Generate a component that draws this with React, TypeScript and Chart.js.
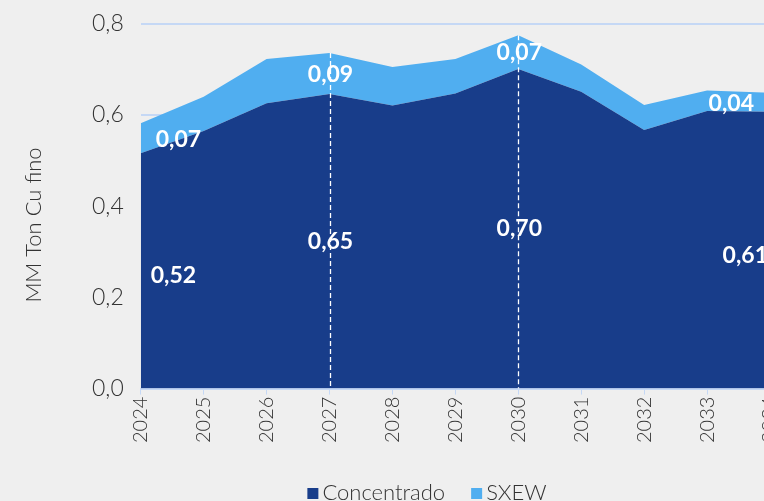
import React, { useEffect, useRef } from "react";
import { Chart, registerables } from "chart.js";

Chart.register(...registerables);

const years = ["2024", "2025", "2026", "2027", "2028", "2029", "2030", "2031", "2032", "2033", "2034"];
const seriesNames = ["Concentrado", "SXEW"];
const concentrado = [0.516, 0.565, 0.626, 0.646, 0.621, 0.647, 0.701, 0.651, 0.567, 0.609, 0.607];
const sxew = [0.066, 0.075, 0.097, 0.09, 0.084, 0.076, 0.074, 0.06, 0.055, 0.045, 0.042];
const labelIndices = [0, 3, 6, 10];
const dashedIndices = [3, 6];
const yTicks = [0, 0.2, 0.4, 0.6, 0.8];
const yTitle = "MM Ton Cu fino";

const DARK = "#183d8a";
const LIGHT = "#50aef0";
const BG = "#efefef";
const TEXT = "#333333";
const FONT = "Lato, 'Open Sans', sans-serif";
const SHIFT_Y = 7;

const fmt = (v: number, d: number) => v.toFixed(d).replace(".", ",");

const overlayPlugin = {
  id: "overlay",
  afterDatasetsDraw(chart: any) {
    const { ctx, scales } = chart;
    const xs = scales.x;
    const ys = scales.y;
    const last = years.length - 1;
    ctx.save();
    ctx.strokeStyle = "#ffffff";
    ctx.lineWidth = 1.3;
    ctx.setLineDash([5, 3]);
    dashedIndices.forEach((i) => {
      const x = Math.round(xs.getPixelForValue(i)) + 0.5;
      ctx.beginPath();
      ctx.moveTo(x, ys.getPixelForValue(concentrado[i] + sxew[i]));
      ctx.lineTo(x, ys.getPixelForValue(0));
      ctx.stroke();
    });
    ctx.setLineDash([]);
    ctx.fillStyle = "#ffffff";
    ctx.font = `bold 23px ${FONT}`;
    ctx.textBaseline = "middle";
    labelIndices.forEach((i) => {
      const x = xs.getPixelForValue(i);
      const yc = ys.getPixelForValue(concentrado[i] / 2) + (i === 0 || i === last ? 5 : 0);
      const yx = ys.getPixelForValue(concentrado[i] + sxew[i] / 2) + 1;
      if (i === 0) {
        ctx.textAlign = "left";
        ctx.fillText(fmt(concentrado[i], 2), x + 10, yc);
        ctx.fillText(fmt(sxew[i], 2), x + 15, yx);
      } else if (i === last) {
        ctx.textAlign = "right";
        ctx.fillText(fmt(concentrado[i], 2), x - 2, yc);
        ctx.fillText(fmt(sxew[i], 2), x - 16, yx);
      } else {
        ctx.textAlign = "center";
        ctx.fillText(fmt(concentrado[i], 2), x + 1, yc);
        ctx.fillText(fmt(sxew[i], 2), x + 1, yx);
      }
    });
    ctx.restore();
  },
  afterDraw(chart: any) {
    const { ctx } = chart;
    ctx.save();
    // y axis title
    ctx.font = `300 22px ${FONT}`;
    ctx.fillStyle = TEXT;
    ctx.textAlign = "center";
    ctx.textBaseline = "middle";
    ctx.translate(34, 225 + SHIFT_Y);
    ctx.rotate(-Math.PI / 2);
    ctx.fillText(yTitle, 0, 0);
    ctx.setTransform(1, 0, 0, 1, 0, 0);
    // legend
    const box = 11;
    const gapBoxText = 4;
    const gapItems = 26;
    const colors = [DARK, LIGHT];
    const widths = seriesNames.map((n) => ctx.measureText(n).width);
    const total = widths.reduce((a, w) => a + box + gapBoxText + w, 0) + gapItems * (seriesNames.length - 1);
    let x = 427 - total / 2;
    const baseline = 500 + SHIFT_Y;
    ctx.textBaseline = "alphabetic";
    ctx.textAlign = "left";
    seriesNames.forEach((n, i) => {
      ctx.fillStyle = colors[i];
      ctx.fillRect(x, baseline - 12, box, box);
      x += box + gapBoxText;
      ctx.fillStyle = TEXT;
      ctx.fillText(n, x, baseline);
      x += widths[i] + gapItems;
    });
    ctx.restore();
  },
};

export default function App() {
  const ref = useRef<HTMLCanvasElement | null>(null);
  useEffect(() => {
    if (!ref.current) return;
    const chart = new Chart(ref.current, {
      type: "line",
      data: {
        labels: years,
        datasets: [
          {
            label: seriesNames[0],
            data: concentrado,
            backgroundColor: DARK,
            borderColor: DARK,
            borderWidth: 0,
            pointRadius: 0,
            fill: "origin",
            tension: 0,
          },
          {
            label: seriesNames[1],
            data: sxew,
            backgroundColor: LIGHT,
            borderColor: LIGHT,
            borderWidth: 0,
            pointRadius: 0,
            fill: "-1",
            tension: 0,
          },
        ],
      },
      options: {
        animation: false,
        responsive: false,
        maintainAspectRatio: false,
        layout: { padding: { left: 75, right: 80, top: 1, bottom: 56 } },
        plugins: {
          legend: { display: false },
          tooltip: { enabled: false },
        },
        scales: {
          x: {
            offset: false,
            grid: {
              display: true,
              drawOnChartArea: false,
              drawTicks: true,
              tickLength: 6,
              color: "#c5d8f5",
            },
            border: { display: true, color: "#c5d8f5", width: 2 },
            ticks: {
              maxRotation: 90,
              minRotation: 90,
              autoSkip: false,
              color: TEXT,
              padding: 2,
              font: { family: FONT, size: 20, weight: "300" as any },
            },
          },
          y: {
            stacked: true,
            min: 0,
            max: 0.8,
            afterBuildTicks: (axis: any) => {
              axis.ticks = yTicks.map((v) => ({ value: v }));
            },
            grid: { color: "#c5d8f5", lineWidth: 2, drawTicks: false },
            border: { display: false },
            ticks: {
              color: TEXT,
              padding: 17,
              font: { family: FONT, size: 23, weight: "300" as any },
              callback: (v: any) => fmt(Number(v), 1),
            },
          },
        },
      },
      plugins: [overlayPlugin],
    });
    return () => chart.destroy();
  }, []);
  return (
    <div
      style={{
        position: "fixed",
        left: 0,
        top: 0,
        width: 764,
        height: 501,
        overflow: "hidden",
        background: BG,
      }}
    >
      <canvas
        ref={ref}
        width={850}
        height={501 + SHIFT_Y}
        style={{ display: "block", marginTop: -SHIFT_Y }}
      />
    </div>
  );
}
